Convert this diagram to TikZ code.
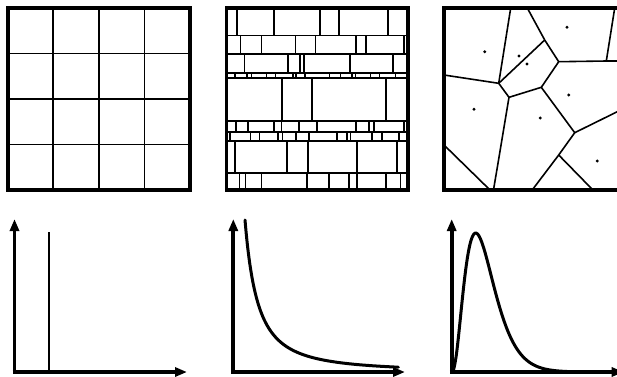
\documentclass[tikz,border=0pt]{standalone}
\usetikzlibrary{arrows.meta}

\begin{document}
\begin{tikzpicture}[x=1pt, y=-1pt,
  border/.style={line width=3.8pt, line join=miter},
  gridln/.style={line width=1.9pt},
  tileln/.style={line width=1.6pt},
  cellwall/.style={line width=1.6pt, line join=round},
  site/.style={fill=black},
  axisarr/.style={line width=3.8pt, -{Triangle[length=12pt, width=9pt]}},
  spike/.style={line width=2.6pt},
  density/.style={line width=3pt, line join=round, line cap=round},
]
\useasboundingbox (0,0) rectangle (617,376);
\clip (0,0) rectangle (617,376);

%% ---- Regular grid ----
\foreach \t in {1,2,3} {
  \draw[gridln] ({7.7+\t*45.6},8) -- ({7.7+\t*45.6},190);
  \draw[gridln] (7.7,{8+\t*45.5}) -- (190,{8+\t*45.5});
}
\draw[border] (7.7,8) rectangle (190,190);

%% ---- Row tiling ----
\foreach \y in {35.3,54,73,77.7,120.7,132,140.7,172.7}
  \draw[tileln] (226.5,\y) -- (408,\y);
\foreach \ya/\yb/\xs in {
    8/35.3/{237,273.7,319.7,338.7,387.7},
    35.3/54/{240.3,261.3,295.3,315.3,356,366,403.7},
    54/73/{244.5,288,300,304,350,393},
    73/77.7/{234.7,247,251.3,266.3,275.3,293,296,304.7,329.3,340.3,352,355.3,370.3,379.3,395.3},
    77.7/120.7/{282,312,386},
    120.7/132/{236,248,273.7,281.3,298.7,317,356,368.7,373.7,403.7},
    132/140.7/{230,250.5,259.5,278,282.5,296,309,337,347,350.5,372,382,399},
    140.7/172.7/{234.7,287,308,357,397},
    172.7/190/{239.3,245.3,261.3,307,328.7,348.7,357,386,400.3}} {
  \foreach \x in \xs
    \draw[tileln] (\x,\ya) -- (\x,\yb);
}
\draw[border] (226.5,8) rectangle (408,190);

%% ---- Voronoi cells ----
\coordinate (va) at (498.7,83.3);
\coordinate (vb) at (544.7,40);
\coordinate (vc) at (558.7,61.7);
\coordinate (vd) at (509,97.3);
\coordinate (ve) at (541.3,87.3);
\coordinate (vf) at (574.7,132.7);
\coordinate (vg) at (558.7,155);
\coordinate (vh) at (606.3,61);

\draw[cellwall] (510.7,8) -- (va);
\draw[cellwall] (527.3,8) -- (vb) -- (vc);
\draw[cellwall] (vb) -- (va);
\draw[cellwall] (444,75) -- (va) -- (vd) -- (ve) -- (vc) -- (vh) -- (626,61);
\draw[cellwall] (vh) -- (614.7,8);
\draw[cellwall] (ve) -- (vf) -- (vg) -- (532.2,190);
\draw[cellwall] (vf) -- (626,107.4);
\draw[cellwall] (vg) -- (592.9,190);
\draw[cellwall] (vd) -- (493.5,190);
\draw[cellwall] (444,145) -- (490,190);

\foreach \p in {(484.7,51.7),(519,56),(527,64),(567,27.3),
                (474,109.3),(540.3,118),(568.7,95),(597.3,161)}
  \fill[site] \p circle (1.6pt);
\draw[border] (444,8) rectangle (626,190);

%% ---- Point mass ----
\draw[axisarr] (14.5,373.9) -- (14.5,219);
\draw[axisarr] (12.6,372) -- (187,372);
\draw[spike] (49,372) -- (49,232);

%% ---- Heavy tail ----
\draw[axisarr] (233.3,373.9) -- (233.3,219);
\draw[axisarr] (231.4,372) -- (405,372);
\draw[density] plot[domain=11.7:165, samples=120, smooth]
  ({233.3+\x},{372-152*exp(-1.61*ln((\x+8.7)/20.4))});

%% ---- Skewed bump ----
\draw[axisarr] (451.7,373.9) -- (451.7,219);
\draw[axisarr] (449.8,372) -- (623.7,372);
\draw[density] (451.7,372) -- plot[domain=0.6:150, samples=120, smooth]
  ({451.7+\x},{372-139*exp(2.5*ln(\x/24)-(\x-24)/9.6)}) -- (630,372);

\end{tikzpicture}
\end{document}
